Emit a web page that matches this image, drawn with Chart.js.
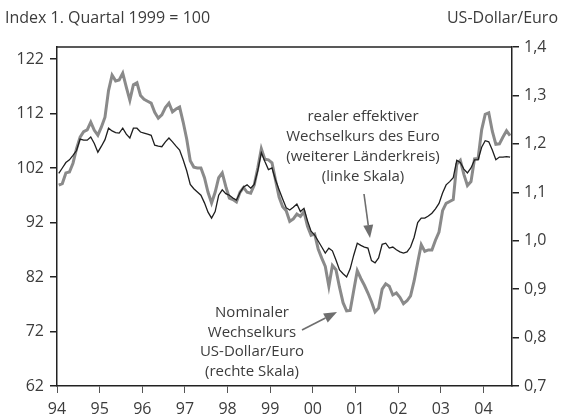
<!DOCTYPE html>
<html>
<head>
<meta charset="utf-8">
<script src="https://cdn.jsdelivr.net/npm/chart.js@4.4.1/dist/chart.umd.min.js"></script>
<style>
    html, body { margin: 0; padding: 0; background: #fff; }
    #wrap { width: 563px; height: 418px; }
</style>
</head>
<body>
<div id="wrap"><canvas id="chartKurs" width="563" height="418"></canvas></div>
<script>
// Monatswerte ab Januar 1994
const startYear = 1994;
const yearTicks = [1994, 1995, 1996, 1997, 1998, 1999, 2000, 2001, 2002, 2003, 2004];
const leftTicks = [62, 72, 82, 92, 102, 112, 122];
const rightTicks = [0.7, 0.8, 0.9, 1.0, 1.1, 1.2, 1.3, 1.4];

// nominaler Wechselkurs US-Dollar/Euro (rechte Skala)
const nominal = [
    1.115, 1.118, 1.14, 1.142, 1.16, 1.19, 1.214, 1.225, 1.229, 1.245, 1.228, 1.218,
    1.235, 1.255, 1.31, 1.342, 1.33, 1.332, 1.346, 1.317, 1.29, 1.322, 1.326, 1.30,
    1.292, 1.288, 1.284, 1.265, 1.253, 1.26, 1.275, 1.284, 1.266, 1.272, 1.276, 1.245,
    1.21, 1.165, 1.152, 1.15, 1.15, 1.13, 1.10, 1.078, 1.10, 1.13, 1.14, 1.112,
    1.088, 1.085, 1.08, 1.10, 1.11, 1.10, 1.098, 1.115, 1.15, 1.19, 1.168, 1.167,
    1.161, 1.125, 1.09, 1.07, 1.062, 1.04, 1.045, 1.055, 1.05, 1.06, 1.03, 1.011,
    1.014, 0.983, 0.964, 0.947, 0.906, 0.949, 0.94, 0.904, 0.872, 0.855, 0.856, 0.897,
    0.938, 0.922, 0.908, 0.892, 0.874, 0.853, 0.861, 0.90, 0.911, 0.906, 0.888, 0.892,
    0.883, 0.870, 0.876, 0.886, 0.917, 0.955, 0.992, 0.978, 0.981, 0.981, 1.001, 1.018,
    1.062, 1.077, 1.081, 1.085, 1.158, 1.166, 1.137, 1.114, 1.122, 1.169, 1.170, 1.229,
    1.261, 1.264, 1.226, 1.199, 1.20, 1.214, 1.227, 1.217
];

// realer effektiver Wechselkurs, weiterer Länderkreis (linke Skala)
const realEff = [
    101.0, 102.0, 103.0, 103.5, 104.3, 105.2, 107.3, 107.1, 107.1, 107.7, 106.5, 104.9,
    106.0, 107.2, 109.3, 108.8, 108.5, 108.4, 109.3, 108.2, 107.5, 109.3, 109.3, 108.6,
    108.4, 108.2, 108.0, 106.2, 106.0, 105.9, 106.8, 107.5, 106.8, 106.0, 105.3, 103.5,
    101.5, 99.0, 98.2, 97.6, 97.0, 95.6, 93.9, 92.8, 94.0, 97.0, 98.0, 97.3,
    97.0, 96.5, 96.1, 97.5, 98.5, 98.9, 98.3, 99.0, 101.5, 104.8, 103.2, 101.7,
    102.0, 99.8, 98.0, 96.3, 94.7, 94.3, 94.8, 95.4, 94.0, 94.6, 92.3, 90.4,
    89.7, 88.6, 87.5, 86.4, 87.3, 86.8, 85.1, 83.3, 82.6, 82.0, 83.5, 86.0,
    88.2, 87.8, 87.5, 87.3, 85.0, 84.6, 85.5, 88.0, 88.2, 87.3, 87.5, 87.0,
    86.6, 86.4, 86.6, 87.5, 89.3, 92.0, 92.8, 92.8, 93.2, 93.7, 94.5, 95.5,
    97.4, 98.9, 99.5, 100.2, 103.4, 103.0, 101.8, 101.1, 102.0, 103.5, 103.5, 105.8,
    107.0, 106.8, 105.3, 103.5, 104.0, 104.0, 104.1, 104.0
];

const FONT = "'Open Sans', sans-serif";
const TXT = '#3c3c3c';

function toPoints(values) {
    return values.map((v, i) => ({ x: startYear + (i + 0.5) / 12, y: v }));
}

function arrow(ctx, x1, y1, x2, y2) {
    const a = Math.atan2(y2 - y1, x2 - x1);
    const len = 13, half = 5;
    ctx.save();
    ctx.strokeStyle = '#6e6e6e';
    ctx.fillStyle = '#6e6e6e';
    ctx.lineWidth = 1.6;
    ctx.beginPath();
    ctx.moveTo(x1, y1);
    ctx.lineTo(x2 - Math.cos(a) * len, y2 - Math.sin(a) * len);
    ctx.stroke();
    ctx.beginPath();
    ctx.moveTo(x2, y2);
    ctx.lineTo(x2 - Math.cos(a) * len - Math.sin(a) * half, y2 - Math.sin(a) * len + Math.cos(a) * half);
    ctx.lineTo(x2 - Math.cos(a) * len + Math.sin(a) * half, y2 - Math.sin(a) * len - Math.cos(a) * half);
    ctx.closePath();
    ctx.fill();
    ctx.restore();
}

// Rahmen, Kopfzeilen und Beschriftungen
const extras = {
    id: 'extras',
    afterDraw(chart) {
        const ctx = chart.ctx;
        const area = chart.chartArea;
        ctx.save();
        ctx.strokeStyle = '#222';
        ctx.lineWidth = 1.5;
        ctx.beginPath();
        ctx.moveTo(area.left, area.top);
        ctx.lineTo(area.right, area.top);
        ctx.stroke();

        ctx.fillStyle = TXT;
        ctx.font = '16px ' + FONT;
        ctx.textBaseline = 'middle';
        ctx.textAlign = 'left';
        ctx.fillText('Index 1. Quartal 1999 = 100', 5, 18);
        ctx.textAlign = 'right';
        ctx.fillText('US-Dollar/Euro', 558, 18);

        ctx.font = '15px ' + FONT;
        ctx.textAlign = 'center';
        const l1 = ['realer effektiver', 'Wechselkurs des Euro', '(weiterer Länderkreis)', '(linke Skala)'];
        l1.forEach((t, i) => ctx.fillText(t, 363, 117 + i * 20));
        const l2 = ['Nominaler', 'Wechselkurs', 'US-Dollar/Euro', '(rechte Skala)'];
        l2.forEach((t, i) => ctx.fillText(t, 252, 313 + i * 19.5));
        ctx.restore();

        arrow(ctx, 364, 194, 370, 238);
        arrow(ctx, 302, 330, 337, 312);
    }
};

new Chart(document.getElementById('chartKurs').getContext('2d'), {
    type: 'line',
    data: {
        datasets: [{
            label: 'realer effektiver Wechselkurs',
            data: toPoints(realEff),
            yAxisID: 'y',
            borderColor: '#1e1e1e',
            borderWidth: 1.3,
            pointRadius: 0,
            tension: 0
        }, {
            label: 'Nominaler Wechselkurs',
            data: toPoints(nominal),
            yAxisID: 'y1',
            borderColor: '#8a8a8a',
            borderWidth: 3,
            pointRadius: 0,
            tension: 0
        }]
    },
    options: {
        responsive: false,
        animation: false,
        layout: { padding: { top: 47, left: 0, right: 0, bottom: 0 } },
        plugins: {
            legend: { display: false },
            tooltip: { enabled: false }
        },
        scales: {
            x: {
                type: 'linear',
                min: 1994,
                max: 2004.67,
                afterBuildTicks: s => { s.ticks = yearTicks.map(v => ({ value: v })); },
                afterFit: s => { s.height = 32; },
                grid: { drawOnChartArea: false, drawTicks: true, tickLength: 7, color: '#555', lineWidth: 1 },
                border: { display: true, color: '#222', width: 1.5 },
                ticks: {
                    padding: 7,
                    color: TXT,
                    font: { family: FONT, size: 16 },
                    maxRotation: 0,
                    callback: v => String(v).slice(2)
                }
            },
            y: {
                position: 'left',
                min: 62,
                max: 124.2,
                afterBuildTicks: s => { s.ticks = leftTicks.map(v => ({ value: v })); },
                afterFit: s => { s.width = 57; },
                grid: { drawOnChartArea: false, drawTicks: true, tickLength: 7, color: '#222', lineWidth: 1.5 },
                border: { display: true, color: '#222', width: 1.5 },
                ticks: { padding: 6, color: TXT, font: { family: FONT, size: 16 } }
            },
            y1: {
                position: 'right',
                min: 0.7,
                max: 1.4,
                afterBuildTicks: s => { s.ticks = rightTicks.map(v => ({ value: v })); },
                afterFit: s => { s.width = 51; },
                grid: { drawOnChartArea: false, drawTicks: true, tickLength: 7, color: '#222', lineWidth: 1.5 },
                border: { display: true, color: '#222', width: 1.5 },
                ticks: {
                    padding: 5,
                    color: TXT,
                    font: { family: FONT, size: 16 },
                    callback: v => v.toFixed(1).replace('.', ',')
                }
            }
        }
    },
    plugins: [extras]
});
</script>
</body>
</html>
